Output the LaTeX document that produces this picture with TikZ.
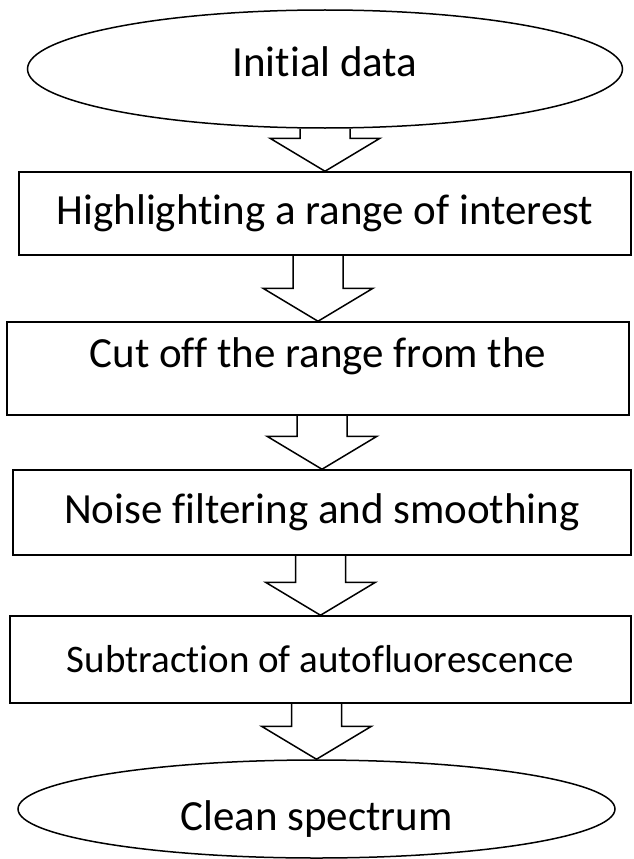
\documentclass[tikz,border=0pt]{standalone}
\usepackage{fontspec}
\setmainfont{Carlito}[Ligatures=NoCommon]
\usepackage{tikz}
\usetikzlibrary{shapes.geometric}
\usetikzlibrary{calc}

% hollow block arrow from the bottom of one node to the top of the next
\newcommand{\blockarrow}[2]{%
 \draw[flowline] let \p1=(#1.south), \p2=(#2.north) in
  (\x2-25pt,\y1) -- (\x2-25pt,\y2+33pt) -- (\x2-55pt,\y2+33pt) -- (\x2,\y2)
  -- (\x2+55pt,\y2+33pt) -- (\x2+25pt,\y2+33pt) -- (\x2+25pt,\y1);}

\begin{document}
\begin{tikzpicture}[x=1pt,y=-1pt,
  flowline/.style={line width=1.5pt, line join=miter},
  terminal/.style={ellipse, draw, line width=1.5pt, inner sep=0pt},
  stepbox/.style={rectangle, draw, line width=1.5pt, inner sep=0pt},
  font=\fontsize{43}{48}\selectfont]
 \useasboundingbox (0,0) rectangle (633,859);

 \node[terminal, minimum width=595pt, minimum height=118pt, text depth=14pt] (start) at (325,69) {Initial data};

 \node[stepbox, minimum width=612pt, minimum height=83pt] (highlight) at (325,213.5)
   {Highlighting a range of interest};
 \node[stepbox, minimum width=622pt, minimum height=93pt, text depth=31pt] (cutoff) at (318,368.5)
   {Cut off the range from the};
 \node[stepbox, minimum width=618pt, minimum height=85pt] (noise) at (322,512.5)
   {Noise filtering and smoothing};
 \node[stepbox, minimum width=621pt, minimum height=87pt,
   font=\fontsize{39}{44}\selectfont] (subtract) at (320.5,659.5)
   {Subtraction of autofluorescence};

 \node[terminal, minimum width=597pt, minimum height=98pt, text height=50pt] (clean) at (316.5,809) {Clean spectrum};

 \blockarrow{start}{highlight}
 \blockarrow{highlight}{cutoff}
 \blockarrow{cutoff}{noise}
 \blockarrow{noise}{subtract}
 \blockarrow{subtract}{clean}

\end{tikzpicture}
\end{document}
